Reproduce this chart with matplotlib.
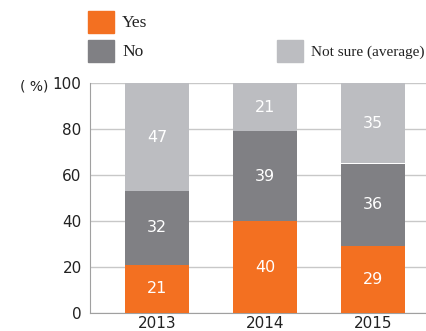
import matplotlib.pyplot as plt
from matplotlib.patches import Rectangle

years = ["2013", "2014", "2015"]
yes = [21, 40, 29]
no = [32, 39, 36]
not_sure = [47, 21, 35]

c_yes = "#f37021"
c_no = "#808084"
c_ns = "#bcbdc1"

fig = plt.figure(figsize=(4.27, 3.31), dpi=100)
ax = fig.add_axes([90 / 427, 18 / 331, 337 / 427, 230 / 331])

x = range(len(years))
w = 0.59
b1 = ax.bar(x, yes, w, color=c_yes, zorder=3)
b2 = ax.bar(x, no, w, bottom=yes, color=c_no, zorder=3)
bottom3 = [a + b for a, b in zip(yes, no)]
b3 = ax.bar(x, not_sure, w, bottom=bottom3, color=c_ns, zorder=3)

for bars, vals in [(b1, yes), (b2, no), (b3, not_sure)]:
    for r, v in zip(bars, vals):
        ax.text(r.get_x() + r.get_width() / 2, r.get_y() + r.get_height() / 2, str(v),
                ha="center", va="center", color="white", fontsize=11.5, zorder=4)

ax.set_xlim(-0.62, 2.5)
ax.set_ylim(0, 100)
ax.set_yticks([0, 20, 40, 60, 80, 100])
ax.set_xticks(list(x))
ax.set_xticklabels(years)
ax.yaxis.grid(True, color="#c8c8c8", linewidth=1)
ax.set_axisbelow(True)
for s in ["top", "right"]:
    ax.spines[s].set_visible(False)
ax.spines["left"].set_color("#a0a0a0")
ax.spines["bottom"].set_color("#a0a0a0")
ax.tick_params(length=0, labelsize=11, colors="#222222", pad=6)
ax.tick_params(axis="x", pad=2)

fig.text(20 / 427, 1 - 86 / 331, "( %)", fontsize=10, va="center", color="#222222")

# legend
serif = "Liberation Serif"
legend = [(88, 11, c_yes, "Yes", 12.5), (88, 40, c_no, "No", 12.5),
          (277, 40, c_ns, "Not sure (average)", 11)]
for px, py, col, lab, fs in legend:
    fig.patches.append(Rectangle((px / 427, 1 - (py + 22) / 331), 26 / 427, 22 / 331,
                                 transform=fig.transFigure, color=col))
    fig.text((px + 34) / 427, 1 - (py + 12) / 331, lab, fontsize=fs, family=serif,
             va="center", color="#222222")

fig.savefig("out.png", dpi=100)
